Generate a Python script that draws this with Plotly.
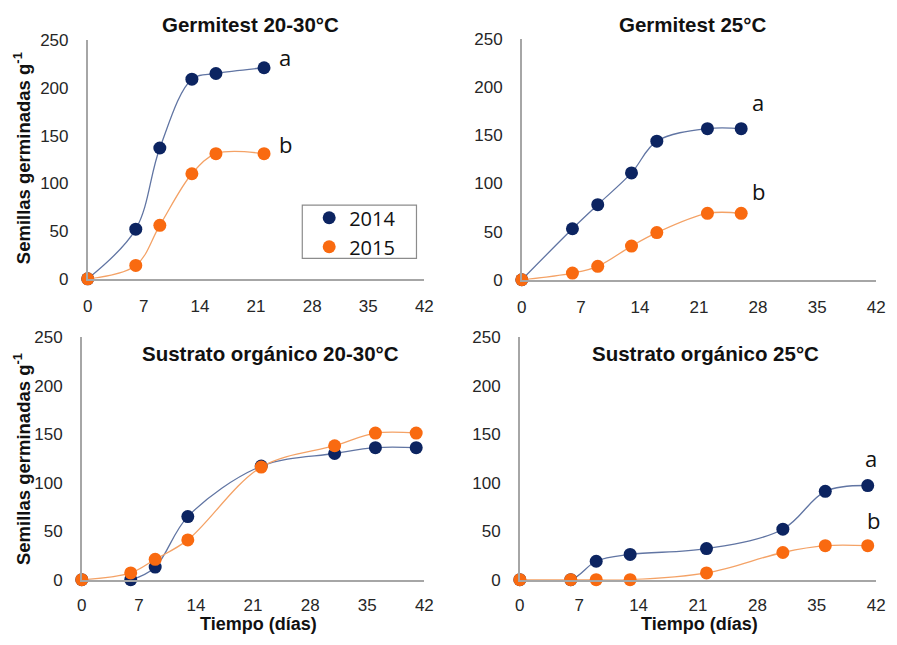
import plotly.graph_objects as go

# ---- data ----
gt2030_days = [0, 6, 9, 13, 16, 22]
gt2030_2014 = [0, 52, 137, 209, 215, 221]
gt2030_2015 = [0, 14, 56, 110, 131, 131]

gt25_days = [0, 6, 9, 13, 16, 22, 26]
gt25_2014 = [0, 53, 78, 111, 144, 157, 157]
gt25_2015 = [0, 7, 14, 35, 49, 69, 69]

so2030_days = [0, 6, 9, 13, 22, 31, 36, 41]
so2030_2014 = [0, 0, 13, 65, 117, 130, 136, 136]
so2030_2015 = [0, 7, 21, 41, 116, 138, 151, 151]

so25_days = [0, 6, 9, 13, 22, 31, 36, 41]
so25_2014 = [0, 0, 19, 26, 32, 52, 91, 97]
so25_2015 = [0, 0, 0, 0, 7, 28, 35, 35]

titles = ["Germitest 20-30°C", "Germitest 25°C",
          "Sustrato orgánico 20-30°C", "Sustrato orgánico 25°C"]
series_names = ["2014", "2015"]
x_ticks = [0, 7, 14, 21, 28, 35, 42]
y_ticks = [0, 50, 100, 150, 200, 250]

# letters: (panel, x, y, text)
letters = [(0, 23.6, 232, "a"), (0, 23.6, 141, "b"),
           (1, 27.1, 185, "a"), (1, 27.1, 92, "b"),
           (3, 40.5, 125, "a"), (3, 40.7, 61, "b")]

W, H = 897, 645
NAVY = "#0C2461"
ORANGE = "#F96A10"
NAVY_LINE = "#6175A3"
ORANGE_LINE = "#F4A266"
AXIS = "#A6A6A6"

# plot areas in pixels (x0, x1, ytop, ybottom)
areas = [(84, 426, 32, 278), (525, 885, 31, 279),
         (78, 426, 338, 588), (523, 885, 338, 588)]

data = [(gt2030_days, gt2030_2014, gt2030_2015),
        (gt25_days, gt25_2014, gt25_2015),
        (so2030_days, so2030_2014, so2030_2015),
        (so25_days, so25_2014, so25_2015)]

TICKFONT = dict(family="Liberation Sans, Arial", size=17, color="#262626")

fig = go.Figure()
layout = dict()
for i, ((d, s14, s15), (x0, x1, yt, yb)) in enumerate(zip(data, areas)):
    xa = "x" if i == 0 else f"x{i+1}"
    ya = "y" if i == 0 else f"y{i+1}"
    for vals, mc, lc in [(s14, NAVY, NAVY_LINE), (s15, ORANGE, ORANGE_LINE)]:
        fig.add_trace(go.Scatter(
            x=d, y=vals, xaxis=xa, yaxis=ya, mode="lines+markers",
            line=dict(color=lc, width=1.3, shape="spline", smoothing=1.0),
            marker=dict(color=mc, size=13), cliponaxis=False, showlegend=False))
    xkey = "xaxis" if i == 0 else f"xaxis{i+1}"
    ykey = "yaxis" if i == 0 else f"yaxis{i+1}"
    layout[xkey] = dict(domain=[x0 / W, x1 / W], range=[0, 42], tickvals=x_ticks,
                        showline=True, linecolor=AXIS, linewidth=1.5, showgrid=False,
                        zeroline=False, ticks="", ticklabelstandoff=11 if i < 2 else 9,
                        tickfont=TICKFONT, anchor=ya, fixedrange=True)
    layout[ykey] = dict(domain=[1 - yb / H, 1 - yt / H], range=[0, 250], tickvals=y_ticks,
                        showline=True, linecolor=AXIS, linewidth=1.5, showgrid=False,
                        zeroline=False, ticks="", ticklabelstandoff=14,
                        tickfont=TICKFONT, anchor=xa, fixedrange=True)

# legend-only traces
for name, mc in zip(series_names, [NAVY, ORANGE]):
    fig.add_trace(go.Scatter(x=[None], y=[None], mode="markers", name=name,
                             marker=dict(color=mc, size=13), showlegend=True))

annotations = []
title_pos = [(249, 16), (698, 16), (270, 355), (712, 355)]
for t, (tx, ty) in zip(titles, title_pos):
    annotations.append(dict(text=f"<b>{t}</b>", x=tx / W, y=1 - ty / H, xref="paper", yref="paper",
                            showarrow=False, xanchor="center", yanchor="middle",
                            font=dict(family="Liberation Sans, Arial", size=20.5, color="#111")))
for (yx, yy) in [(18, 154), (18, 464)]:
    annotations.append(dict(text="<b>Semillas germinadas g<sup>-1</sup></b>", x=yx / W, y=1 - yy / H,
                            xref="paper", yref="paper", showarrow=False, textangle=-90,
                            xanchor="center", yanchor="middle",
                            font=dict(family="Liberation Sans, Arial", size=18.5, color="#111")))
for (tx, ty) in [(258, 634), (706, 634)]:
    annotations.append(dict(text="<b>Tiempo (días)</b>", x=tx / W, y=1 - ty / H,
                            xref="paper", yref="paper", showarrow=False,
                            xanchor="center", yanchor="middle",
                            font=dict(family="Liberation Sans, Arial", size=18, color="#111")))
for (p, lx, ly, txt) in letters:
    xa = "x" if p == 0 else f"x{p+1}"
    ya = "y" if p == 0 else f"y{p+1}"
    annotations.append(dict(text=txt, x=lx, y=ly, xref=xa, yref=ya, showarrow=False,
                            xanchor="left", yanchor="middle",
                            font=dict(family="Open Sans, Lato", size=22, color="#111")))

layout.update(
    width=W, height=H, margin=dict(l=0, r=0, t=0, b=0),
    paper_bgcolor="white", plot_bgcolor="white",
    annotations=annotations,
    shapes=[dict(type="rect", xref="paper", yref="paper",
                 x0=302 / W, x1=418 / W, y0=1 - 257 / H, y1=1 - 202 / H,
                 line=dict(color="#8C8C8C", width=1.2), fillcolor="rgba(0,0,0,0)")],
    legend=dict(x=309 / W, y=1 - 195 / H, xanchor="left", yanchor="top",
                bgcolor="rgba(0,0,0,0)", borderwidth=0, tracegroupgap=0,
                font=dict(family="Open Sans, Lato", size=20, color="#111"),
                itemwidth=30),
)
fig.update_layout(**layout)
fig.write_html("out.html")
